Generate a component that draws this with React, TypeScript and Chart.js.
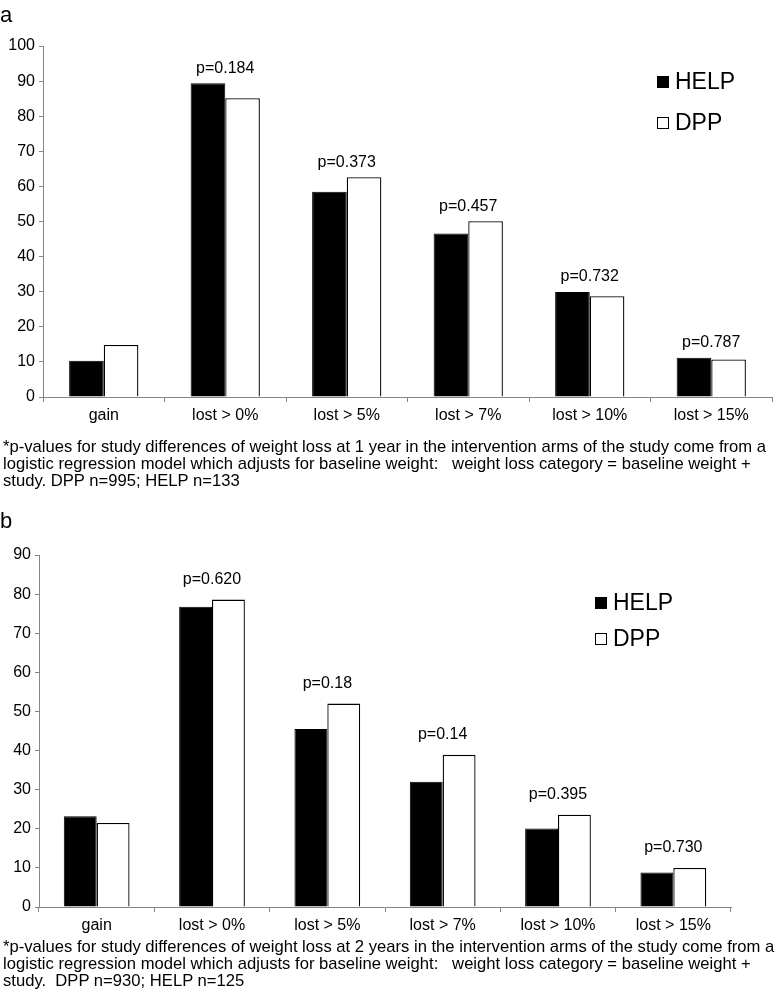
import React, { useEffect, useRef } from "react";
import { Chart, registerables } from "chart.js";
Chart.register(...registerables);

const categories = ["gain", "lost > 0%", "lost > 5%", "lost > 7%", "lost > 10%", "lost > 15%"];
const seriesNames = ["HELP", "DPP"];

const helpYear1 = [10.3, 89.4, 58.5, 46.6, 29.9, 11.2];
const dppYear1 = [14.8, 85.1, 62.6, 50.1, 28.7, 10.7];
const pYear1 = ["", "p=0.184", "p=0.373", "p=0.457", "p=0.732", "p=0.787"];
const yMax1 = 100;

const helpYear2 = [23.2, 76.8, 45.5, 32.0, 20.1, 8.8];
const dppYear2 = [21.5, 78.6, 52.0, 38.9, 23.6, 10.0];
const pYear2 = ["", "p=0.620", "p=0.18", "p=0.14", "p=0.395", "p=0.730"];
const yMax2 = 90;

const yStep = 10;

const footnote1 = [
  "*p-values for study differences of weight loss at 1 year in the intervention arms of the study come from a",
  "logistic regression model which adjusts for baseline weight:\u00a0\u00a0 weight loss category = baseline weight +",
  "study. DPP n=995; HELP n=133",
];
const footnote2 = [
  "*p-values for study differences of weight loss at 2 years in the intervention arms of the study come from a",
  "logistic regression model which adjusts for baseline weight:\u00a0\u00a0 weight loss category = baseline weight +",
  "study.\u00a0 DPP n=930; HELP n=125",
];

const FONT = "'Liberation Sans', Arial, sans-serif";
const AXIS_COLOR = "#858585";

type PanelProps = {
  help: number[];
  dpp: number[];
  pLabels: string[];
  yMax: number;
  height: number;
  padTop: number;
  padRight: number;
  yAxisWidth: number;
  xAxisHeight: number;
  pOffset: number;
  legendX: number;
  legendY: number;
  legendGap: number;
};

function Panel(p: PanelProps) {
  const ref = useRef<HTMLCanvasElement | null>(null);
  useEffect(() => {
    if (!ref.current) return;
    const overlay = {
      id: "overlay",
      afterDatasetsDraw(chart: any) {
        const ctx = chart.ctx;
        const x = chart.scales.x;
        const ca = chart.chartArea;
        ctx.save();
        ctx.fillStyle = "#000";
        ctx.font = `16px ${FONT}`;
        ctx.textAlign = "center";
        ctx.textBaseline = "middle";
        p.pLabels.forEach((lab, i) => {
          if (!lab) return;
          const m0 = chart.getDatasetMeta(0).data[i];
          const m1 = chart.getDatasetMeta(1).data[i];
          const top = Math.min(m0.y, m1.y);
          ctx.fillText(lab, x.getPixelForValue(i), top - p.pOffset);
        });
        const lx = ca.right - p.legendX;
        const ly = ca.top + p.legendY;
        const sq = 12;
        ctx.textAlign = "left";
        ctx.font = `23px ${FONT}`;
        seriesNames.forEach((name, k) => {
          const cy = ly + k * p.legendGap;
          if (k === 0) {
            ctx.fillStyle = "#000";
            ctx.fillRect(lx, cy - sq / 2, sq, sq);
          } else {
            ctx.fillStyle = "#fff";
            ctx.fillRect(lx, cy - sq / 2, sq, sq);
            ctx.strokeStyle = "#000";
            ctx.lineWidth = 1;
            ctx.strokeRect(lx + 0.5, cy - sq / 2 + 0.5, sq - 1, sq - 1);
          }
          ctx.fillStyle = "#000";
          ctx.fillText(name, lx + sq + 6, cy + 1);
        });
        ctx.restore();
      },
    };
    const chart = new Chart(ref.current, {
      type: "bar",
      data: {
        labels: categories,
        datasets: [
          {
            label: seriesNames[0],
            data: p.help,
            backgroundColor: "#000",
            borderColor: "#000",
            borderWidth: 1,
          },
          {
            label: seriesNames[1],
            data: p.dpp,
            backgroundColor: "#fff",
            borderColor: "#000",
            borderWidth: 1.3,
          },
        ],
      },
      options: {
        animation: false,
        responsive: false,
        maintainAspectRatio: false,
        events: [],
        datasets: { bar: { categoryPercentage: 0.57, barPercentage: 1 } },
        layout: { padding: { top: p.padTop, right: p.padRight, left: 0, bottom: 0 } },
        plugins: { legend: { display: false }, tooltip: { enabled: false } },
        scales: {
          x: {
            grid: {
              display: true,
              offset: true,
              drawOnChartArea: false,
              drawTicks: true,
              tickLength: 5,
              color: AXIS_COLOR,
            },
            border: { display: true, color: AXIS_COLOR, width: 1 },
            ticks: { color: "#000", font: { family: FONT, size: 16 }, padding: 4, maxRotation: 0, autoSkip: false },
            afterFit: (s: any) => {
              s.height = p.xAxisHeight;
            },
          },
          y: {
            min: 0,
            max: p.yMax,
            grid: {
              display: true,
              drawOnChartArea: false,
              drawTicks: true,
              tickLength: 4,
              color: AXIS_COLOR,
            },
            border: { display: true, color: AXIS_COLOR, width: 1 },
            ticks: { stepSize: yStep, color: "#000", font: { family: FONT, size: 16 }, padding: 4 },
            afterFit: (s: any) => {
              s.width = p.yAxisWidth;
            },
          },
        },
      },
      plugins: [overlay],
    });
    return () => chart.destroy();
  }, []);
  return <canvas ref={ref} width={780} height={p.height} style={{ display: "block", width: 780, height: p.height }} />;
}

function Footnote({ lines, top }: { lines: string[]; top: number }) {
  return (
    <div
      style={{
        position: "absolute",
        left: 3,
        top,
        fontFamily: FONT,
        fontSize: 17,
        lineHeight: "17px",
        color: "#000",
        whiteSpace: "pre",
        transform: "scaleX(0.978)",
        transformOrigin: "0 0",
      }}
    >
      {lines.map((l, i) => (
        <div key={i}>{l}</div>
      ))}
    </div>
  );
}

export default function App() {
  useEffect(() => {
    document.body.style.margin = "0";
  }, []);
  return (
    <div style={{ position: "relative", width: 780, height: 1003, background: "#fff", overflow: "hidden" }}>
      <div style={{ position: "absolute", left: 0, top: 0, width: 780, height: 432 }}>
        <Panel
          help={helpYear1}
          dpp={dppYear1}
          pLabels={pYear1}
          yMax={yMax1}
          height={432}
          padTop={46}
          padRight={8}
          yAxisWidth={43}
          xAxisHeight={35}
          pOffset={15}
          legendX={115}
          legendY={36}
          legendGap={41}
        />
      </div>
      <div style={{ position: "absolute", left: 0, top: 500, width: 780, height: 440 }}>
        <Panel
          help={helpYear2}
          dpp={dppYear2}
          pLabels={pYear2}
          yMax={yMax2}
          height={440}
          padTop={55}
          padRight={49}
          yAxisWidth={39}
          xAxisHeight={33}
          pOffset={20}
          legendX={136}
          legendY={48}
          legendGap={36}
        />
      </div>
      <div style={{ position: "absolute", left: 0, top: 4, fontFamily: FONT, fontSize: 22, lineHeight: "22px" }}>a</div>
      <div style={{ position: "absolute", left: 0, top: 510, fontFamily: FONT, fontSize: 22, lineHeight: "22px" }}>b</div>
      <Footnote lines={footnote1} top={438} />
      <Footnote lines={footnote2} top={938} />
    </div>
  );
}
